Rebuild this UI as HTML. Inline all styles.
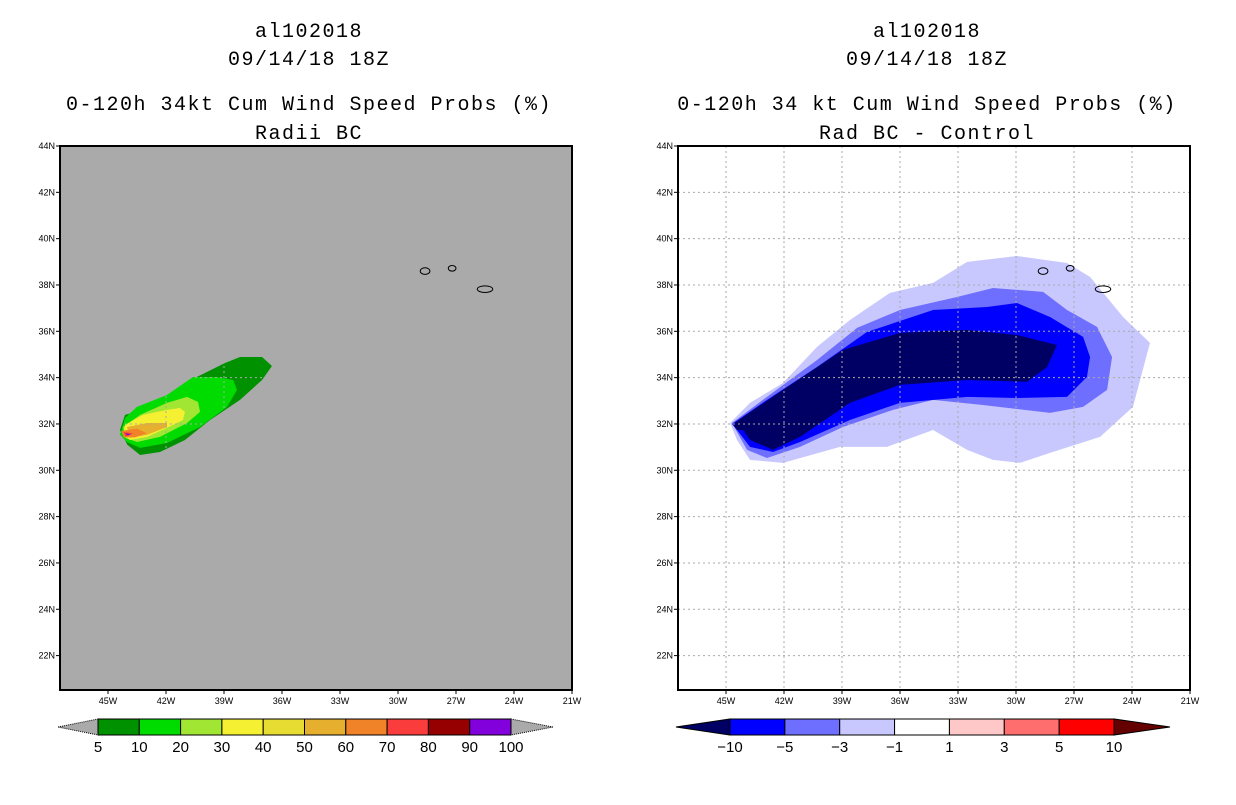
<!DOCTYPE html>
<html><head><meta charset="utf-8"><style>
body{margin:0;background:#fff;width:1236px;height:800px;overflow:hidden}
svg text{font-family:"Liberation Sans",sans-serif}
svg text.mono{font-family:"Liberation Mono",monospace}
</style></head><body>
<svg id="s" width="1236" height="800" xmlns="http://www.w3.org/2000/svg"></svg>
<script>
const lonTicks=[-45,-42,-39,-36,-33,-30,-27,-24,-21];
const latTicks=[22,24,26,28,30,32,34,36,38,40,42,44];
const leftBarLabels=['5','10','20','30','40','50','60','70','80','90','100'];
const leftBarColors=['#009100','#00dc00','#a0e632','#f5f032','#e6dc32','#e6af2d','#f08228','#fa3c3c','#960000','#8200dc'];
const rightBarLabels=['−10','−5','−3','−1','1','3','5','10'];
const rightBarColors=['#0000ff','#6e6eff','#c8c8ff','#ffffff','#ffc8c8','#ff6e6e','#ff0000'];
const probLevels=['#009100','#00dc00','#a0e632','#f5f032','#e6af2d','#f08228','#fa3c3c','#8200dc'];
const probShapes=[
[[-44.38,31.74],[-44.12,32.39],[-43.6,32.52],[-42.31,33.04],[-40.5,33.99],[-38.95,34.63],[-38.17,34.89],[-37.03,34.89],[-36.52,34.5],[-37.03,33.9],[-38.17,33.04],[-39.72,32.17],[-41.02,31.31],[-42.31,30.79],[-43.34,30.66],[-44.0,31.1]],
[[-44.12,32.26],[-43.5,32.74],[-41.95,33.25],[-40.6,34.03],[-39.36,34.03],[-38.53,33.9],[-38.33,33.47],[-38.84,32.74],[-40.24,31.87],[-41.95,31.18],[-43.34,30.97],[-44.02,31.22],[-44.38,31.53]],
[[-44.22,31.87],[-43.34,32.39],[-41.95,32.91],[-40.91,33.17],[-40.34,32.95],[-40.24,32.52],[-40.91,32.04],[-42.31,31.44],[-43.5,31.22],[-44.12,31.4]],
[[-44.12,31.96],[-43.19,32.39],[-41.95,32.61],[-41.28,32.69],[-41.02,32.52],[-41.12,32.17],[-41.95,31.83],[-42.98,31.44],[-43.86,31.31],[-44.22,31.53]],
[[-44.02,31.87],[-42.98,32.04],[-41.95,32.04],[-41.95,31.87],[-42.98,31.53],[-43.86,31.4]],
[[-44.3,31.7],[-43.5,31.8],[-43.0,31.6],[-43.6,31.42],[-44.2,31.42]],
[[-44.2,31.66],[-43.7,31.6],[-44.1,31.46]],
[[-44.1,31.6],[-43.8,31.55],[-44.0,31.5]]];
const diffLevels=['#c8c8ff','#6e6eff','#0000ff','#000064'];
const diffShapes=[
[[-44.79,32.04],[-43.76,32.91],[-42.05,33.77],[-40.29,35.33],[-38.59,36.49],[-36.52,37.66],[-34.29,38.09],[-32.53,39.0],[-29.95,39.25],[-27.36,38.95],[-26.17,38.35],[-24.46,36.62],[-23.07,35.5],[-23.95,32.74],[-25.65,31.44],[-28.24,30.75],[-29.79,30.32],[-31.19,30.45],[-32.53,30.88],[-34.29,31.74],[-36.67,31.01],[-39.1,31.01],[-42.05,30.32],[-43.76,30.45],[-44.43,31.31]],
[[-44.69,32.04],[-43.24,32.95],[-40.29,34.76],[-38.22,36.15],[-36.0,36.92],[-33.05,37.48],[-31.19,37.87],[-28.6,37.7],[-27.36,36.92],[-25.81,36.19],[-25.03,34.89],[-25.29,33.47],[-26.53,32.74],[-28.24,32.48],[-31.71,32.82],[-34.29,33.04],[-36.36,32.61],[-38.95,31.87],[-41.17,31.01],[-42.88,30.53],[-43.91,30.88]],
[[-44.69,32.0],[-42.88,33.04],[-40.29,34.46],[-37.71,35.97],[-34.29,36.92],[-31.5,37.05],[-29.95,37.22],[-28.24,36.62],[-26.53,35.76],[-26.17,34.89],[-26.33,34.03],[-27.36,33.17],[-29.95,33.12],[-32.53,33.17],[-36.0,32.91],[-38.59,32.17],[-41.17,31.22],[-42.57,30.79],[-43.76,31.01],[-44.43,31.74]],
[[-44.64,32.0],[-42.05,33.47],[-38.95,35.2],[-36.0,35.93],[-32.53,36.06],[-29.95,35.84],[-27.88,35.41],[-28.39,34.46],[-29.43,33.82],[-32.53,33.9],[-36.0,33.69],[-38.59,32.91],[-41.17,31.44],[-42.57,30.88],[-43.76,31.31],[-44.12,31.74],[-44.43,31.74]]];
const islands=[[-28.6,38.6,0.25,0.1],[-27.2,38.72,0.2,0.08],[-25.5,37.82,0.4,0.1]];

const NS='http://www.w3.org/2000/svg',S=document.getElementById('s');
function mk(t,a,p){const e=document.createElementNS(NS,t);for(const k in a)e.setAttribute(k,a[k]);(p||S).appendChild(e);return e;}
function panel(x0,bg,shapes,levels,grid,titles,bar,barLabels,barColors,pname){
  const L=x0,R=x0+512,T=146,B=690;
  const X=lon=>L+48+(lon+45)*(58/3), Y=lat=>T+(44-lat)*(509.6/22);
  const g=mk('g',{});
  const bgR=mk('rect',{x:L,y:T,width:512,height:544,fill:bg},g);
  
  shapes.forEach((sh,i)=>{const p=mk('polygon',{points:sh.map(q=>X(q[0])+','+Y(q[1])).join(' '),fill:levels[i]},g);
    });
  lonTicks.forEach(v=>{const x=X(v);
    if(v<-21){const l=mk('line',{x1:x,y1:T,x2:x,y2:B,stroke:grid,'stroke-dasharray':'2,3'},g);}
    mk('line',{x1:x,y1:B,x2:x,y2:B+4,stroke:'#000'},g);
    const t=mk('text',{x:x,y:B+14,'font-size':9,'text-anchor':'middle'},g);t.textContent=Math.abs(v)+'W';
    });
  latTicks.forEach(v=>{const y=Y(v);
    if(v<44){const l=mk('line',{x1:L,y1:y,x2:R,y2:y,stroke:grid,'stroke-dasharray':'2,3'},g);}
    mk('line',{x1:L-4,y1:y,x2:L,y2:y,stroke:'#000'},g);
    const t=mk('text',{x:L-5,y:y+3,'font-size':9,'text-anchor':'end'},g);t.textContent=v+'N';
    });
  islands.forEach(q=>{const e=mk('ellipse',{cx:X(q[0]),cy:Y(q[1]),rx:q[2]*19.33,ry:q[3]*23.17+1,fill:'none',stroke:'#000','stroke-width':1},g);
    });
  const f=mk('rect',{x:L,y:T,width:512,height:544,fill:'none',stroke:'#000','stroke-width':2},g);
  
  const cx=L+249;
  titles.forEach((s,i)=>{const t=mk('text',{x:cx,y:[37,65,110,139][i],'font-size':20,'text-anchor':'middle','letter-spacing':'1.5','class':'mono'},g);t.textContent=s;
    });
  const [bx0,bx1,ax0,ax1]=bar,n=barColors.length,w=(bx1-bx0)/n,y0=719,y1=735;
  const cb=mk('g',{},g);
  mk('polygon',{points:`${ax0},727 ${bx0},${y0} ${bx0},${y1}`,fill:bar[4],stroke:'#000','stroke-dasharray':bar[6]?'':'1,1'},cb);
  mk('polygon',{points:`${ax1},727 ${bx1},${y0} ${bx1},${y1}`,fill:bar[5],stroke:'#000','stroke-dasharray':bar[6]?'':'1,1'},cb);
  barColors.forEach((c,i)=>{const r=mk('rect',{x:bx0+i*w,y:y0,width:w,height:y1-y0,fill:c,stroke:'#000','stroke-width':1},cb);
    });
  barLabels.forEach((s,i)=>{const t=mk('text',{x:bx0+i*w,y:752,'font-size':15,'text-anchor':'middle'},cb);t.textContent=s;
    });
}
panel(60,'#aaaaaa',probShapes,probLevels,'#aaaaaa',['al102018','09/14/18 18Z','0-120h 34kt Cum Wind Speed Probs (%)','Radii BC'],
  [98,511,58,553,'#aaaaaa','#aaaaaa',false],leftBarLabels,leftBarColors,'left-panel');
panel(678,'#ffffff',diffShapes,diffLevels,'#aaaaaa',['al102018','09/14/18 18Z','0-120h 34 kt Cum Wind Speed Probs (%)','Rad BC - Control'],
  [730,1114,676,1170,'#000064','#640000',true],rightBarLabels,rightBarColors,'right-panel');
</script>
</body></html>
